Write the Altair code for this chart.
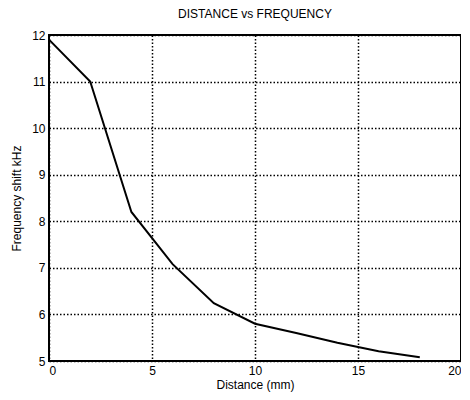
import altair as alt
import pandas as pd

distance = [0, 2, 4, 6, 8, 10, 12, 14, 16, 18]
freq_shift = [11.9, 11.0, 8.2, 7.08, 6.24, 5.8, 5.6, 5.39, 5.21, 5.08]

df = pd.DataFrame({"Distance": distance, "Freq": freq_shift})

font = "Liberation Sans"

chart = alt.Chart(df).mark_line(color="black", strokeWidth=2).encode(
    x=alt.X("Distance:Q", scale=alt.Scale(domain=[0, 20], nice=False),
            axis=alt.Axis(title="Distance (mm)", values=[0, 5, 10, 15, 20])),
    y=alt.Y("Freq:Q", scale=alt.Scale(domain=[5, 12], nice=False, zero=False),
            axis=alt.Axis(title="Frequency shift kHz", values=[5, 6, 7, 8, 9, 10, 11, 12])),
).properties(
    width=412, height=326,
    title=alt.TitleParams("DISTANCE vs FREQUENCY", font=font, fontSize=12,
                          fontWeight="normal", color="black", offset=8),
    autosize=alt.AutoSizeParams(type="none"),
    padding={"left": 41, "top": 27, "right": 0, "bottom": 31},
).configure_view(
    stroke="black", strokeWidth=2
).configure_axis(
    grid=True, gridColor="black", gridDash=[1.5, 2], gridWidth=1.5, gridOpacity=1,
    domain=False, ticks=False, labelFont=font, titleFont=font,
    labelFontSize=12, titleFontSize=12, titleFontWeight="normal",
    labelColor="black", titleColor="black", labelPadding=4,
).configure_axisX(titlePadding=3).configure_axisY(titlePadding=8)

chart.save("out.html", embed_options={"renderer": "svg", "actions": False})
